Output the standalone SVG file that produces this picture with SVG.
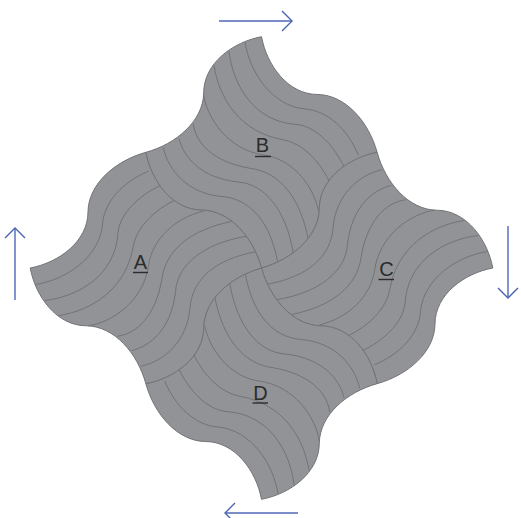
<svg xmlns="http://www.w3.org/2000/svg" width="521" height="518" viewBox="0 0 521 518">
<style>
.tile{fill:#929396;stroke:#727376;stroke-width:1}
.seam{fill:none;stroke:#727376;stroke-width:1}
.lbl{font-family:"Liberation Sans",Arial,sans-serif;font-size:20px;fill:#2b2b2b;text-anchor:middle}
.ul{stroke:#2b2b2b;stroke-width:1.4}
.arrow{fill:none;stroke:#5068b8;stroke-width:1.4;marker-end:url(#head)}
</style>
<defs>
<marker id="head" markerUnits="userSpaceOnUse" markerWidth="24" markerHeight="24" refX="11" refY="11" orient="auto"><path d="M1 1L11 11L1 21" fill="none" stroke="#4a62b4" stroke-width="1.4"/></marker>
<g id="tile">
<path class="tile" d="M261.5 36.7c5.3 28.3 26.3 57.8 56.3 57.8c28 .5 51 27.5 59.35 57.85c-28.3 5.3 -57.8 26.3 -57.8 56.3c-.5 28 -27.5 51 -57.85 59.35c-8.35 -30.35 -31.35 -57.35 -59.35 -57.85c-30 0 -51 -29.5 -56.3 -57.8c30.35 -8.35 57.35 -31.35 57.85 -59.35c0 -30 29.5 -51 57.8 -56.3z"/>
<path class="seam" d="M245 42C249.5 72 272 106 305 109C328 110.5 348 130 358.3 155"/>
<path class="seam" d="M229 51.5C233 85 254 122 297 124.5C318 127 335 148 344 166.7"/>
<path class="seam" d="M214 65.5C219 98 240 132 282 139.5C303 143 320 162 329 181"/>
<path class="seam" d="M203.7 95C207 118 228 150 264 155C290 158.5 312 182 318.3 210"/>
<path class="seam" d="M193.3 124C196 144 214 162 250 168.3C280 172 300 198 308 238"/>
<path class="seam" d="M179 138.3C183 156 200 178 238 182C265 184 286 210 293.3 253"/>
<path class="seam" d="M163.3 147.5C168 170 188 194 222 196.5C250 199 270 221 277.7 262"/>
</g>
</defs>
<g id="piece-B"><use href="#tile"/><text class="lbl" x="262.5" y="152">B</text><line class="ul" x1="255" y1="156.5" x2="271" y2="156.5"/></g>
<g id="piece-C"><use href="#tile" transform="rotate(90 261.5 268)"/><text class="lbl" x="386.5" y="276">C</text><line class="ul" x1="378.5" y1="279.5" x2="394" y2="279.5"/></g>
<g id="piece-D"><use href="#tile" transform="rotate(180 261.5 268)"/><text class="lbl" x="260.5" y="400">D</text><line class="ul" x1="252.5" y1="403" x2="268" y2="403"/></g>
<g id="piece-A"><use href="#tile" transform="rotate(270 261.5 268)"/><text class="lbl" x="140.5" y="269">A</text><line class="ul" x1="133" y1="272.5" x2="148" y2="272.5"/></g>
<g id="connectors">
<line class="arrow" x1="219" y1="21" x2="292" y2="21"/>
<line class="arrow" x1="508" y1="226" x2="508" y2="298"/>
<line class="arrow" x1="298" y1="513" x2="225" y2="513"/>
<line class="arrow" x1="15" y1="300" x2="15" y2="228"/>
</g>
</svg>
